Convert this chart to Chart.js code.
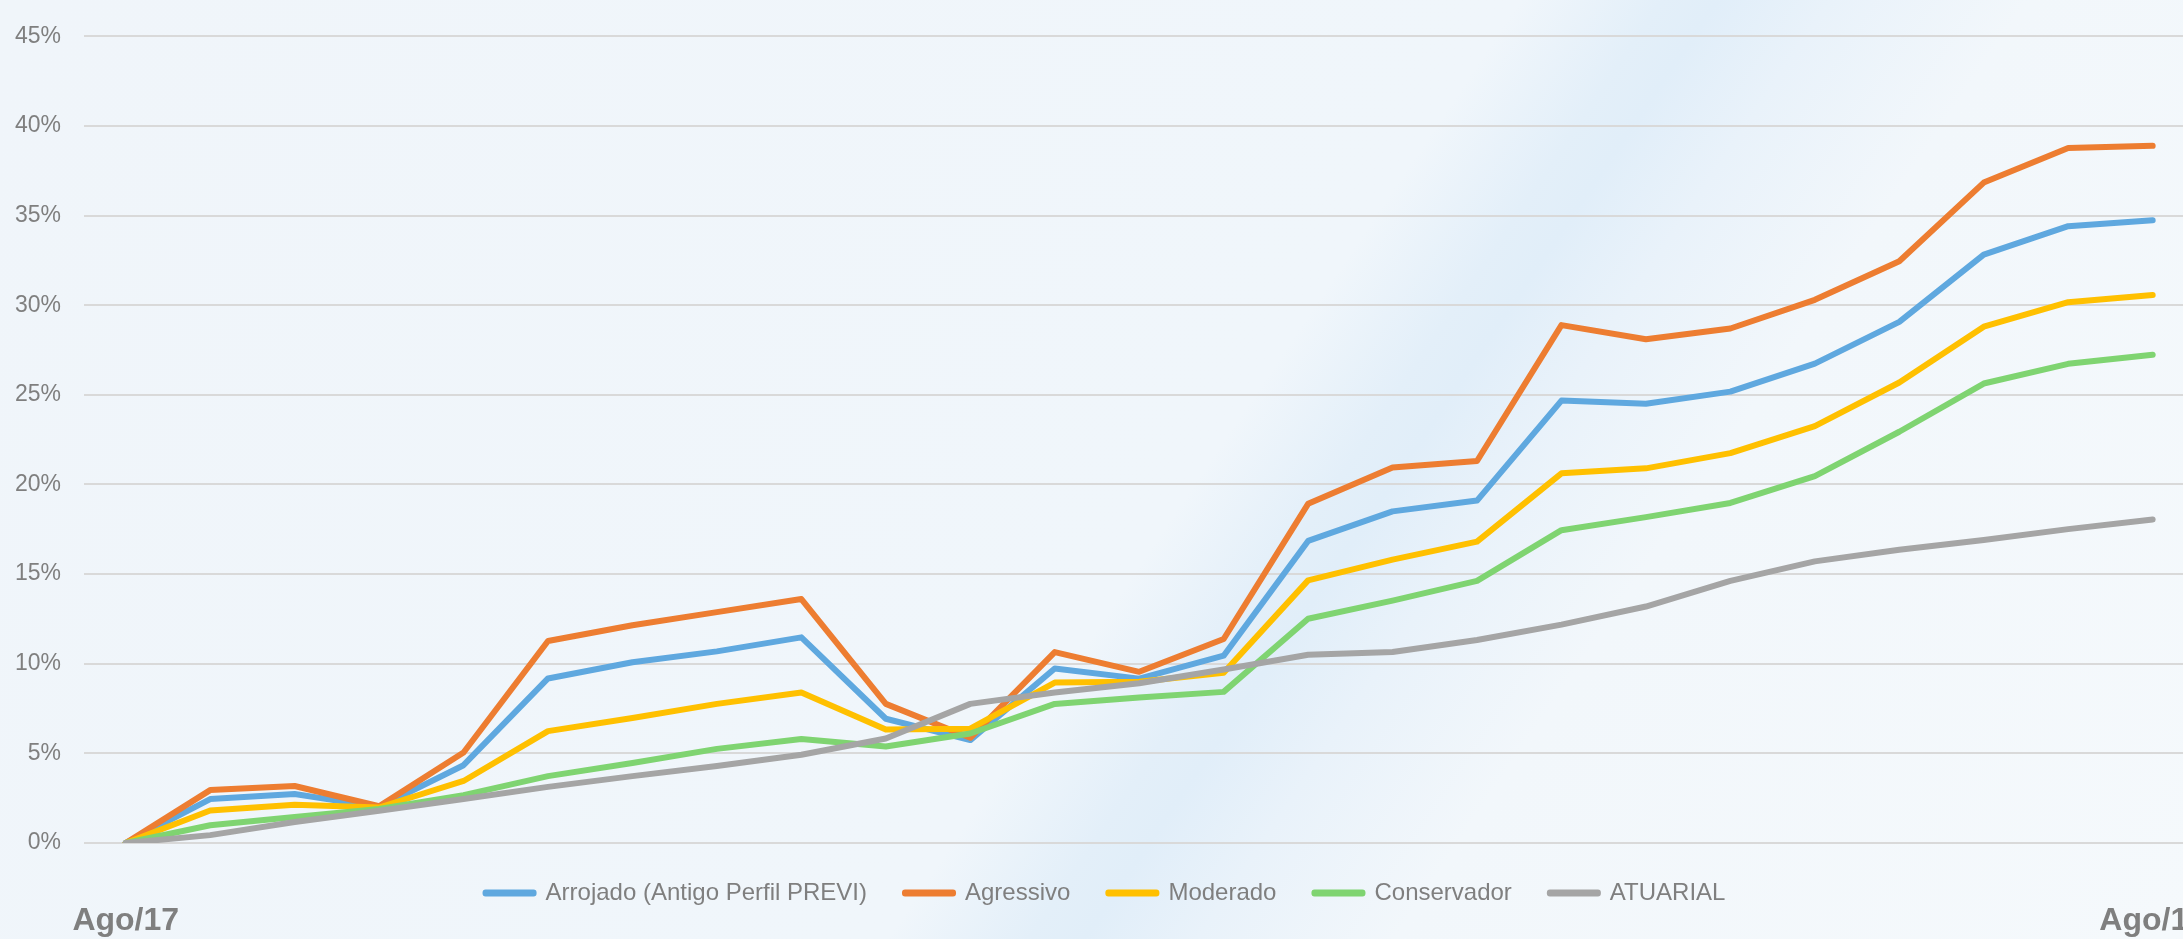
<!DOCTYPE html>
<html>
<head>
<meta charset="utf-8">
<script src="https://cdn.jsdelivr.net/npm/chart.js@4.4.1/dist/chart.umd.min.js"></script>
<style>
  html, body {
    margin: 0;
    padding: 0;
    overflow: hidden;
    width: 2183px;
    height: 939px;
    background: linear-gradient(124deg, #f0f5fa 0%, #f0f6fb 54%, #e3eff9 59%, #e1eef9 61%, #e9f2fa 65%, #f2f7fb 72%, #f5f9fc 100%);
  }
  .chart-wrapper {
    position: absolute;
    left: 15px;
    top: 0;
    width: 2181px;
    height: 939px;
  }
</style>
</head>
<body>
<div class="chart-wrapper"><canvas id="myChart"></canvas></div>
<script>
const months = ["Ago/17", "Set/17", "Out/17", "Nov/17", "Dez/17", "Jan/18", "Fev/18", "Mar/18", "Abr/18",
  "Mai/18", "Jun/18", "Jul/18", "Ago/18", "Set/18", "Out/18", "Nov/18", "Dez/18", "Jan/19", "Fev/19",
  "Mar/19", "Abr/19", "Mai/19", "Jun/19", "Jul/19", "Ago/19"];

const arrojado = [0, 2.45, 2.73, 2.0, 4.34, 9.18, 10.08, 10.69, 11.47, 6.93, 5.74, 9.73, 9.17, 10.45, 16.85,
  18.50, 19.10, 24.68, 24.50, 25.18, 26.74, 29.07, 32.82, 34.41, 34.74];
const agressivo = [0, 2.95, 3.18, 2.05, 5.05, 11.27, 12.15, 12.88, 13.61, 7.76, 5.87, 10.65, 9.55, 11.38, 18.92,
  20.95, 21.31, 28.89, 28.10, 28.70, 30.30, 32.45, 36.84, 38.77, 38.89];
const moderado = [0, 1.81, 2.14, 1.98, 3.46, 6.24, 6.97, 7.76, 8.40, 6.33, 6.38, 8.95, 9.00, 9.50, 14.65,
  15.81, 16.81, 20.62, 20.90, 21.75, 23.25, 25.69, 28.80, 30.17, 30.57];
const conservador = [0, 0.99, 1.45, 1.90, 2.67, 3.73, 4.46, 5.25, 5.80, 5.38, 6.11, 7.76, 8.12, 8.43, 12.51,
  13.52, 14.62, 17.45, 18.18, 18.97, 20.47, 22.94, 25.63, 26.73, 27.24];
const atuarial = [0, 0.44, 1.17, 1.80, 2.45, 3.13, 3.73, 4.30, 4.92, 5.83, 7.76, 8.40, 8.91, 9.68, 10.50,
  10.65, 11.32, 12.18, 13.19, 14.62, 15.71, 16.36, 16.90, 17.51, 18.04];

const yTicks = [0, 5, 10, 15, 20, 25, 30, 35, 40, 45];

const textGray = "#7f7f7f";
const fontFamily = "'Liberation Sans', Arial, sans-serif";

const makeLine = (label, data, color, order) => ({
  label: label,
  data: data,
  borderColor: color,
  backgroundColor: color,
  borderWidth: 6,
  borderCapStyle: "round",
  borderJoinStyle: "round",
  pointRadius: 0,
  tension: 0,
  order: order
});

const ctx = document.getElementById("myChart");

new Chart(ctx, {
  type: "line",
  data: {
    labels: months,
    datasets: [
      makeLine("Arrojado (Antigo Perfil PREVI)", arrojado, "#5fa8df", 5),
      makeLine("Agressivo", agressivo, "#ed7d31", 4),
      makeLine("Moderado", moderado, "#ffc000", 3),
      makeLine("Conservador", conservador, "#7fd471", 2),
      makeLine("ATUARIAL", atuarial, "#a5a5a5", 1)
    ]
  },
  options: {
    responsive: true,
    maintainAspectRatio: false,
    animation: false,
    layout: {
      padding: { top: 23, left: 0, right: 0, bottom: 0 }
    },
    plugins: {
      tooltip: { enabled: false },
      legend: {
        position: "bottom",
        reverse: true,
        maxHeight: 64,
        labels: {
          boxWidth: 48,
          boxHeight: 1,
          padding: 38,
          color: textGray,
          font: { family: fontFamily, size: 24 }
        }
      }
    },
    scales: {
      x: {
        type: "category",
        offset: true,
        weight: 2000,
        grid: { display: false, drawTicks: false },
        border: { display: false },
        afterFit: (scale) => { scale.height = 32; },
        ticks: {
          autoSkip: false,
          maxRotation: 0,
          minRotation: 0,
          padding: -10,
          color: textGray,
          font: { family: fontFamily, size: 32, weight: "bold", lineHeight: 1.5 },
          callback: function (value, index) {
            return index === 0 || index === months.length - 1 ? months[index] : "";
          }
        }
      },
      y: {
        min: yTicks[0],
        max: yTicks[yTicks.length - 1],
        afterFit: (scale) => { scale.width = 68.5; },
        afterBuildTicks: (scale) => {
          scale.ticks = yTicks.map(v => ({ value: v }));
        },
        grid: { color: "#d9d9d9", lineWidth: 2, drawTicks: false },
        border: { display: false },
        ticks: {
          padding: 22.5,
          color: textGray,
          font: { family: fontFamily, size: 23 },
          callback: (value) => value + "%"
        }
      }
    }
  }
});
</script>
</body>
</html>
